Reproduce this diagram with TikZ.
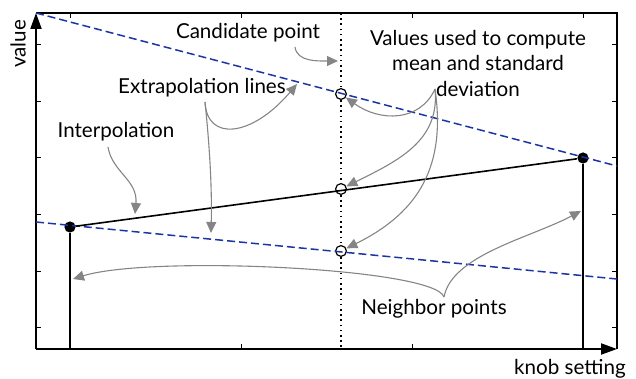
\documentclass[tikz,border=0pt]{standalone}
\usepackage{fontspec}
\setmainfont{Lato}
\usetikzlibrary{arrows.meta,positioning,calc}
\definecolor{extrapazul}{HTML}{1C35A5}
\definecolor{flecha}{HTML}{858585}

\begin{document}
\begin{tikzpicture}[x=0.5pt,y=-0.5pt,
  lbl/.style={font=\fontsize{10.3}{12.75}\selectfont,inner sep=0pt,align=center},
  pointer/.style={draw=flecha,line width=0.55pt,-{Triangle[width=5pt,length=5.5pt]}},
  extrap/.style={draw=extrapazul,line width=0.75pt,dash pattern=on 4pt off 2pt},
  hollowpt/.style={circle,draw,line width=0.6pt,minimum size=5.4pt,inner sep=0pt},
  fulldot/.style={circle,fill,minimum size=5.6pt,inner sep=0pt},
  axis/.style={line width=1pt,-{Triangle[width=5.5pt,length=8pt]}}]
\useasboundingbox (0,0) rectangle (636,379);

% frame, axes and ticks
\draw[line width=0.6pt] (36,13) -- (617,13) -- (617,349);
\draw[axis] (36,349) -- (36,13);
\draw[axis] (36,349) -- (617,349);
\foreach \x in {70,241,412,583} {
  \draw[line width=0.5pt] (\x,13) -- (\x,18);
  \draw[line width=0.5pt] (\x,349) -- (\x,344);
}
\foreach \y in {45,102,158,214,271,327} {
  \draw[line width=0.5pt] (36,\y) -- (41,\y);
  \draw[line width=0.5pt] (617,\y) -- (612,\y);
}

% points
\node[fulldot] (nbL) at (70,227) {};
\node[fulldot] (nbR) at (583,158) {};
\node[hollowpt] (cUp) at (341,94) {};
\node[hollowpt] (cMid) at (341,189) {};
\node[hollowpt] (cLow) at (341,251) {};
\coordinate (footL) at (70,349);
\coordinate (footR) at (583,349);
\coordinate (candTop) at (341,13);
\coordinate (candBot) at (341,349);
\coordinate (exUpA) at (36,13);
\coordinate (exUpB) at (617,166);
\coordinate (exLoA) at (36,222);
\coordinate (exLoB) at (617,279);

% lines
\draw[extrap] (exUpA) -- (exUpB);
\draw[extrap] (exLoA) -- (exLoB);
\draw[line width=0.8pt,dash pattern=on 0.8pt off 1.8pt] (candTop) -- (cUp) (cUp) -- (cMid) (cMid) -- (cLow) (cLow) -- (candBot);
\draw[line width=0.8pt] (nbL) -- (nbR);
\draw[line width=0.8pt] (nbL) -- (footL);
\draw[line width=0.8pt] (nbR) -- (footR);

% labels
\node[lbl,rotate=90] (ylab) at (18,44) {value};
\node[lbl] (xlab) at (570,369) {knob setting};
\node[lbl] (cand) at (248,33) {Candidate point};
\node[lbl] (vals) at (478,63) {Values used to compute\\mean and standard\\deviation};
\node[lbl] (extr) at (202,88) {Extrapolation lines};
\node[lbl] (interp) at (116,132) {Interpolation};
\node[lbl] (neigh) at (434,309) {Neighbor points};

% pointers
\coordinate (candFrom) at (295,47);
\coordinate (candTo) at (338,61);
\coordinate (extrFrom) at (205,102);
\coordinate (extrUp) at (297,84);
\coordinate (extrLo) at (211,233);
\coordinate (interpFrom) at (108,147);
\coordinate (interpTo) at (135,214);
\coordinate (valsFrom) at (435,89);
\coordinate (neighFrom) at (444,297);
\coordinate (neighL) at (73,279);
\coordinate (neighR) at (581,211);
\draw[pointer] (candFrom) .. controls (297,62) and (318,61) .. (candTo);
\draw[pointer] (extrFrom) .. controls (207,142) and (252,137) .. (extrUp);
\draw[pointer] (extrFrom) .. controls (210,150) and (212,190) .. (extrLo);
\draw[pointer] (interpFrom) .. controls (112,172) and (138,180) .. (interpTo);
\draw[pointer] (valsFrom) .. controls (420,122) and (380,122) .. (cUp);
\draw[pointer] (valsFrom) .. controls (440,140) and (400,160) .. (cMid);
\draw[pointer] (valsFrom) .. controls (446,165) and (420,212) .. (cLow);
\draw[pointer] (neighFrom) .. controls (435,268) and (150,255) .. (neighL);
\draw[pointer] (neighFrom) .. controls (452,255) and (530,238) .. (neighR);
\end{tikzpicture}
\end{document}
